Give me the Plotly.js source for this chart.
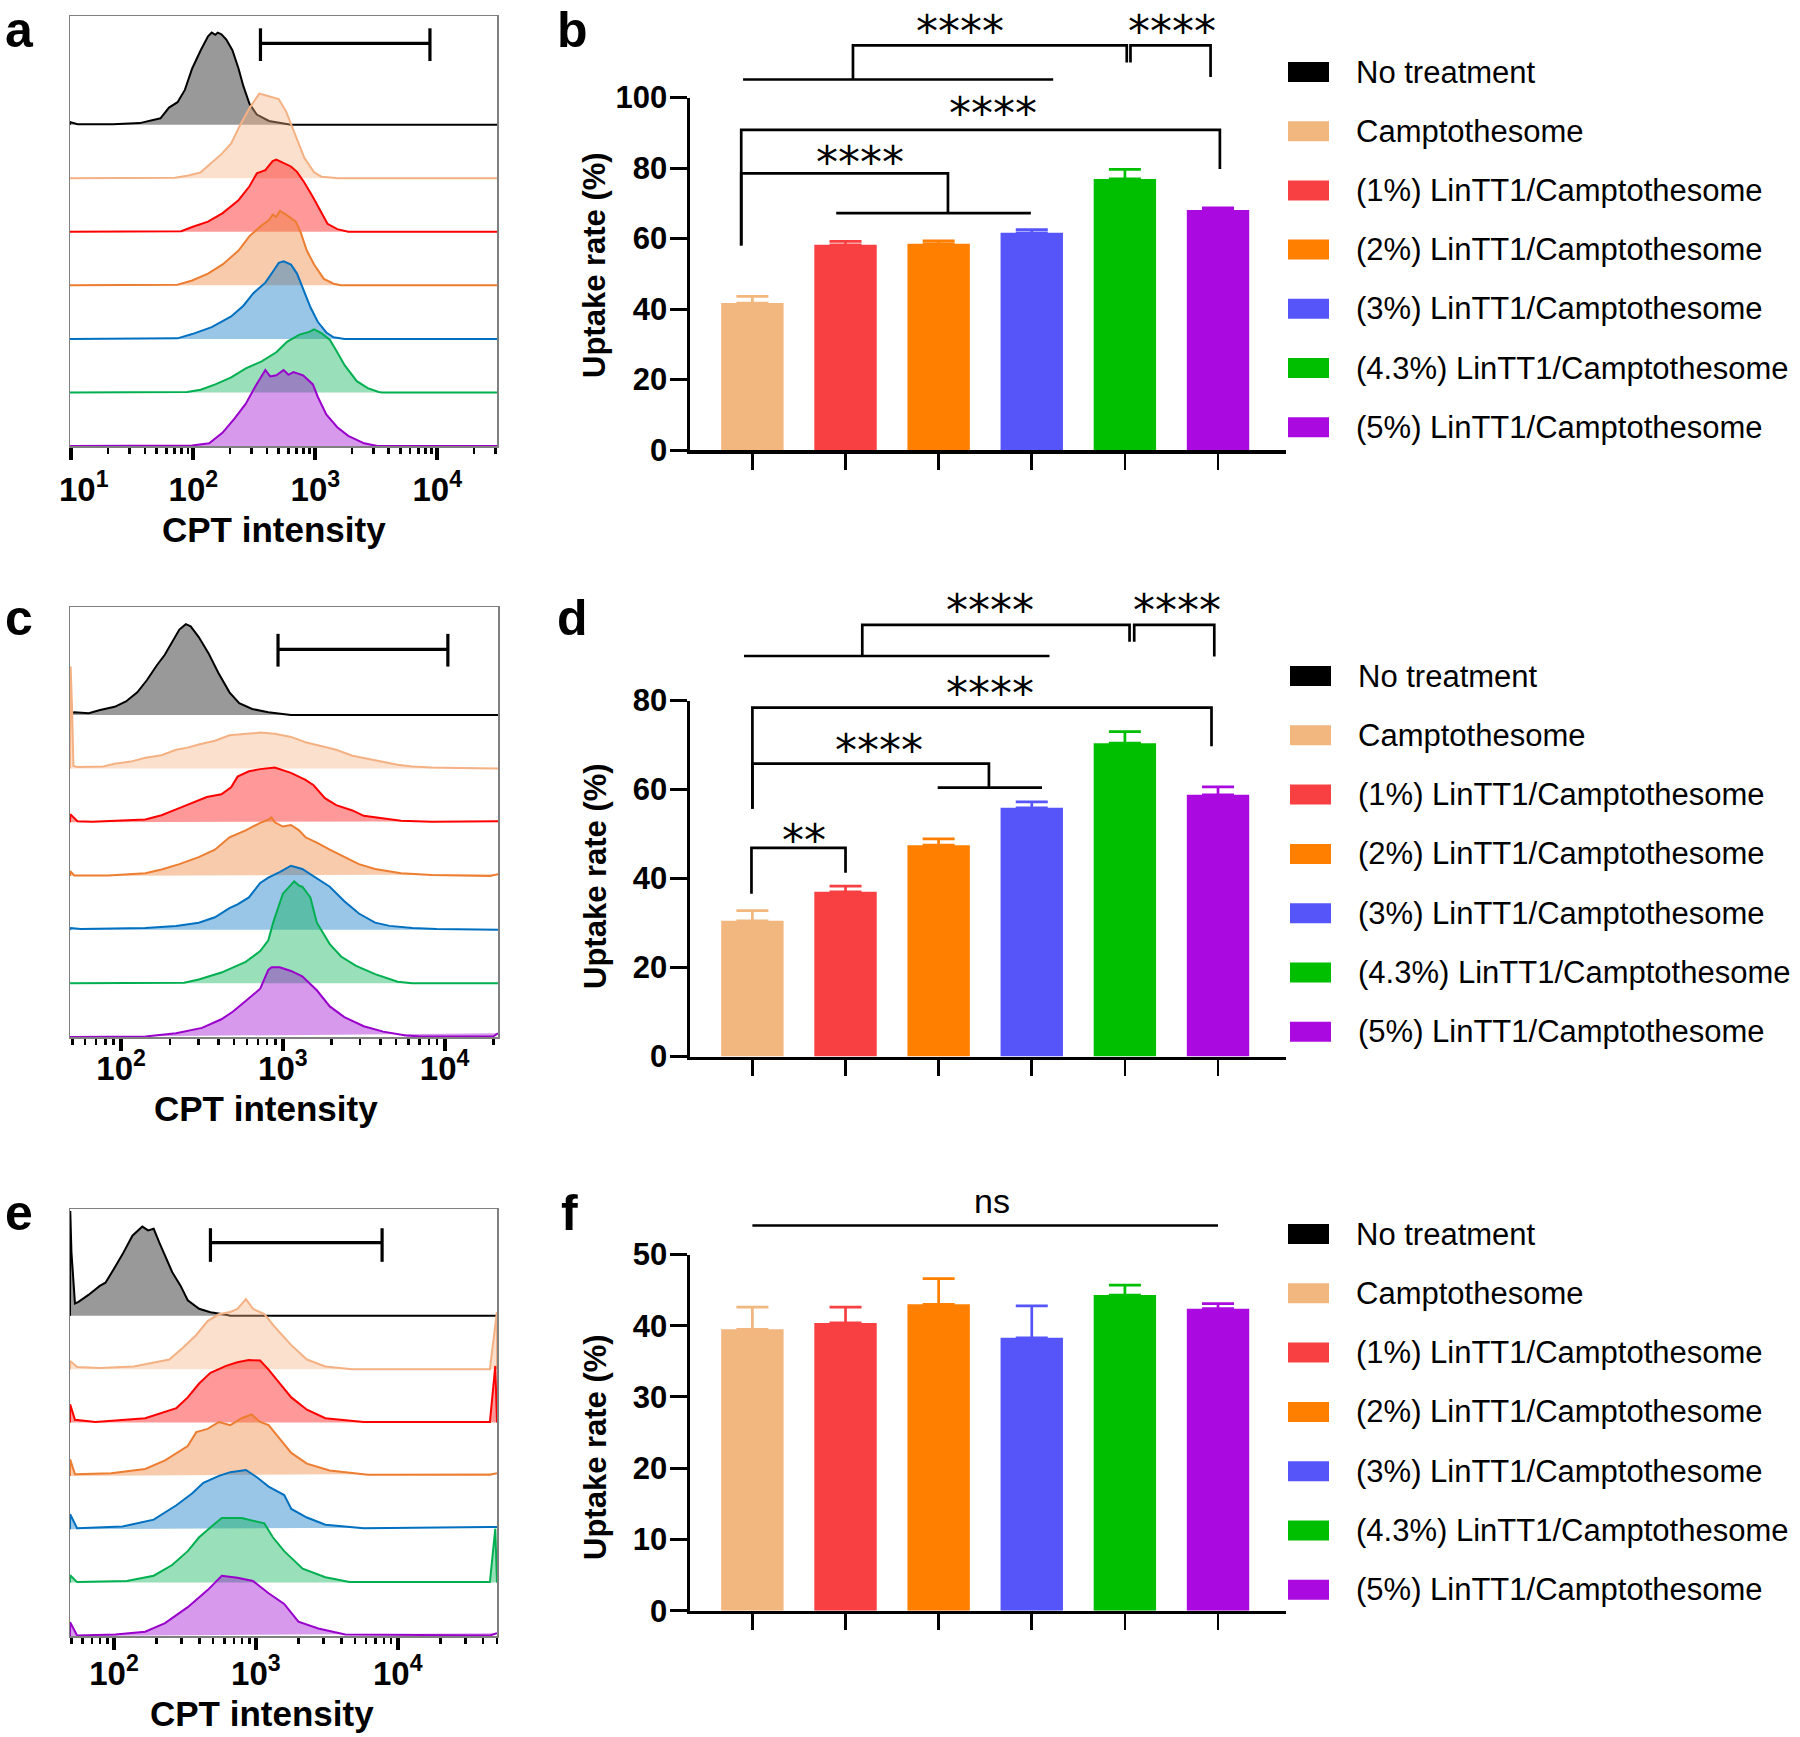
<!DOCTYPE html>
<html><head><meta charset="utf-8">
<script src="https://cdn.plot.ly/plotly-3.0.1.min.js"></script>
<style>html,body{margin:0;padding:0;background:#fff}#plot{width:1800px;height:1737px}</style>
</head><body><div id="plot"></div>
<script>
// ---------------- DATA ----------------
const groups = ['No treatment','Camptothesome','(1%) LinTT1/Camptothesome','(2%) LinTT1/Camptothesome','(3%) LinTT1/Camptothesome','(4.3%) LinTT1/Camptothesome','(5%) LinTT1/Camptothesome'];
const barGroups = groups.slice(1);

const uptakeB = [41.7, 58.2, 58.5, 61.6, 76.9, 68.1];
const errB    = [1.9, 1.0, 0.8, 0.9, 2.7, 0.6];
const uptakeD = [30.5, 37.0, 47.5, 55.9, 70.4, 58.8];
const errD    = [2.3, 1.3, 1.4, 1.3, 2.6, 1.8];
const uptakeF = [39.5, 40.4, 43.0, 38.3, 44.3, 42.4];
const errF    = [3.1, 2.2, 3.6, 4.5, 1.4, 0.7];

const histTicks = [10, 100, 1000, 10000];
const histTickText = ['10<sup>1</sup>','10<sup>2</sup>','10<sup>3</sup>','10<sup>4</sup>'];

// histogram curves: [log10(CPT intensity), relative count]
const histA_none = [[0.988,0],[0.99,0.05],[1.05,0.01],[1.34,0.01],[1.56,0.03],[1.73,0.12],[1.80,0.32],[1.87,0.42],[1.93,0.65],[1.99,1.05],[2.06,1.39],[2.12,1.65],[2.15,1.72],[2.18,1.68],[2.20,1.72],[2.23,1.69],[2.27,1.59],[2.32,1.39],[2.37,1.05],[2.41,0.72],[2.46,0.39],[2.52,0.19],[2.62,0.07],[2.74,0.02],[2.80,0],[4.49,0]];
const histA_camp = [[0.988,0],[1.85,0.01],[1.96,0.05],[2.06,0.11],[2.13,0.25],[2.23,0.45],[2.31,0.65],[2.38,0.98],[2.46,1.31],[2.54,1.58],[2.59,1.55],[2.65,1.51],[2.70,1.48],[2.76,1.25],[2.84,0.78],[2.91,0.38],[2.99,0.11],[3.05,0.03],[3.15,0.01],[3.18,0],[4.49,0]];
const histA_1 = [[0.988,0],[1.90,0.01],[1.99,0.09],[2.12,0.19],[2.24,0.35],[2.37,0.59],[2.46,0.85],[2.52,1.09],[2.59,1.15],[2.65,1.32],[2.68,1.35],[2.74,1.29],[2.80,1.22],[2.85,1.12],[2.91,0.92],[2.98,0.65],[3.04,0.39],[3.10,0.15],[3.18,0.05],[3.24,0.01],[3.27,0],[4.49,0]];
const histA_2 = [[0.988,0],[1.87,0.01],[1.99,0.09],[2.12,0.22],[2.24,0.39],[2.37,0.65],[2.46,0.92],[2.56,1.12],[2.62,1.22],[2.65,1.32],[2.68,1.28],[2.71,1.39],[2.76,1.32],[2.84,1.19],[2.88,0.99],[2.93,0.65],[2.99,0.39],[3.07,0.12],[3.15,0.03],[3.21,0],[4.49,0]];
const histA_3 = [[0.988,0],[1.87,0.01],[1.99,0.09],[2.15,0.22],[2.31,0.42],[2.41,0.62],[2.49,0.85],[2.59,1.05],[2.65,1.25],[2.70,1.42],[2.74,1.45],[2.80,1.39],[2.85,1.22],[2.90,0.92],[2.96,0.59],[3.02,0.32],[3.09,0.12],[3.15,0.03],[3.24,0],[4.49,0]];
const histA_43 = [[0.988,0],[1.95,0.01],[2.06,0.05],[2.18,0.15],[2.31,0.28],[2.43,0.45],[2.56,0.58],[2.68,0.75],[2.77,0.95],[2.87,1.08],[2.95,1.13],[2.99,1.18],[3.05,1.11],[3.12,0.98],[3.18,0.75],[3.24,0.51],[3.34,0.21],[3.43,0.08],[3.52,0.01],[3.55,0],[4.49,0]];
const histA_5 = [[0.988,0],[1.99,0.01],[2.13,0.05],[2.24,0.25],[2.34,0.52],[2.43,0.79],[2.51,1.12],[2.59,1.42],[2.63,1.30],[2.68,1.32],[2.74,1.42],[2.78,1.33],[2.82,1.38],[2.90,1.32],[2.98,1.15],[3.02,0.92],[3.09,0.59],[3.18,0.35],[3.27,0.19],[3.40,0.05],[3.51,0],[4.49,0]];

const histC_none = [[1.684,0],[1.69,0.03],[1.71,0.05],[1.80,0.03],[1.87,0.09],[1.96,0.15],[2.03,0.25],[2.10,0.42],[2.16,0.65],[2.22,0.92],[2.27,1.12],[2.32,1.39],[2.36,1.59],[2.40,1.69],[2.43,1.65],[2.48,1.45],[2.54,1.15],[2.60,0.79],[2.67,0.42],[2.73,0.22],[2.81,0.11],[2.91,0.05],[3.00,0.02],[3.05,0],[4.33,0]];
const histC_camp = [[1.684,0],[1.688,1.9],[1.697,1.1],[1.705,0.05],[1.73,0.03],[1.89,0.04],[1.96,0.09],[2.06,0.13],[2.15,0.2],[2.25,0.25],[2.34,0.35],[2.41,0.39],[2.48,0.45],[2.58,0.52],[2.67,0.62],[2.77,0.65],[2.86,0.67],[2.95,0.65],[3.05,0.59],[3.14,0.49],[3.24,0.42],[3.33,0.35],[3.43,0.24],[3.52,0.19],[3.62,0.12],[3.71,0.07],[3.80,0.04],[3.92,0.02],[4.09,0.01],[4.33,0]];
const histC_1 = [[1.684,0],[1.686,0.15],[1.73,0.02],[1.82,0.01],[2.15,0.05],[2.25,0.13],[2.34,0.24],[2.43,0.35],[2.53,0.47],[2.62,0.52],[2.68,0.65],[2.72,0.85],[2.79,0.95],[2.86,0.99],[2.95,1.02],[3.05,0.92],[3.14,0.79],[3.19,0.69],[3.26,0.45],[3.33,0.32],[3.43,0.22],[3.50,0.12],[3.62,0.07],[3.73,0.03],[3.92,0.01],[4.28,0.01],[4.33,0.02]];
const histC_2 = [[1.684,0],[1.686,0.09],[1.71,0.01],[1.92,0.01],[2.15,0.05],[2.25,0.12],[2.36,0.22],[2.48,0.35],[2.58,0.49],[2.67,0.72],[2.77,0.85],[2.86,0.99],[2.91,1.05],[2.93,1.09],[2.95,1.0],[3.00,0.92],[3.05,0.95],[3.10,0.85],[3.14,0.72],[3.21,0.62],[3.29,0.49],[3.38,0.35],[3.47,0.22],[3.57,0.13],[3.73,0.05],[3.92,0.02],[4.04,0.01],[4.28,0],[4.33,0.03]];
const histC_3 = [[1.684,0],[1.69,0.03],[1.75,0.01],[2.15,0.03],[2.34,0.07],[2.48,0.13],[2.58,0.23],[2.67,0.4],[2.72,0.47],[2.79,0.6],[2.86,0.87],[2.91,0.97],[2.98,1.07],[3.05,1.19],[3.12,1.13],[3.19,1.0],[3.29,0.8],[3.38,0.53],[3.47,0.3],[3.57,0.13],[3.66,0.07],[3.80,0.03],[3.95,0.01],[4.33,0]];
const histC_43 = [[1.684,0],[2.39,0.01],[2.48,0.07],[2.62,0.2],[2.77,0.4],[2.86,0.6],[2.91,0.8],[2.94,1.13],[3.00,1.67],[3.07,1.9],[3.10,1.82],[3.12,1.8],[3.17,1.6],[3.21,1.13],[3.29,0.73],[3.36,0.5],[3.45,0.33],[3.57,0.17],[3.71,0.03],[3.80,0],[4.33,0]];
const histC_5 = [[1.684,0],[2.15,0.01],[2.34,0.07],[2.50,0.17],[2.62,0.33],[2.69,0.47],[2.77,0.67],[2.86,0.9],[2.91,1.25],[2.93,1.3],[2.98,1.3],[3.05,1.23],[3.12,1.13],[3.21,0.87],[3.29,0.57],[3.38,0.37],[3.50,0.2],[3.62,0.1],[3.76,0.03],[3.85,0.01],[4.30,0.01],[4.33,0.07]];

const histE_none = [[1.69,0],[1.692,1.96],[1.70,1.2],[1.725,0.23],[1.75,0.26],[1.82,0.39],[1.90,0.56],[1.94,0.62],[2.00,0.88],[2.06,1.15],[2.13,1.5],[2.20,1.67],[2.24,1.6],[2.28,1.63],[2.32,1.37],[2.36,1.11],[2.41,0.82],[2.47,0.56],[2.52,0.29],[2.60,0.13],[2.68,0.065],[2.79,0.02],[2.82,0],[4.70,0]];
const histE_camp = [[1.69,0],[1.691,0.15],[1.74,0.04],[1.90,0.02],[2.14,0.05],[2.28,0.12],[2.39,0.18],[2.49,0.41],[2.58,0.64],[2.66,0.9],[2.74,1.03],[2.82,1.07],[2.87,1.13],[2.93,1.31],[2.98,1.13],[3.06,1.03],[3.14,0.77],[3.25,0.45],[3.36,0.18],[3.49,0.05],[3.68,0],[4.65,0],[4.68,0.64],[4.699,1.07],[4.70,0]];
const histE_1 = [[1.69,0],[1.691,0.34],[1.725,0.05],[1.87,0.01],[2.22,0.08],[2.44,0.27],[2.52,0.47],[2.60,0.73],[2.68,0.93],[2.79,1.06],[2.87,1.13],[2.95,1.17],[3.03,1.16],[3.09,0.99],[3.17,0.73],[3.25,0.47],[3.36,0.24],[3.49,0.08],[3.76,0.01],[4.65,0.01],[4.688,1.06],[4.70,0]];
const histE_2 = [[1.69,0],[1.691,0.31],[1.725,0.03],[1.98,0.05],[2.22,0.13],[2.36,0.29],[2.52,0.56],[2.58,0.82],[2.66,0.88],[2.74,1.01],[2.82,0.95],[2.90,1.08],[2.97,1.15],[3.03,1.01],[3.09,0.95],[3.17,0.69],[3.25,0.43],[3.36,0.23],[3.52,0.1],[3.79,0.02],[4.65,0.02],[4.70,0.05]];
const histE_3 = [[1.69,0],[1.691,0.28],[1.74,0.02],[2.06,0.05],[2.28,0.18],[2.44,0.45],[2.55,0.67],[2.63,0.87],[2.74,1.0],[2.82,1.07],[2.93,1.11],[3.01,0.97],[3.09,0.8],[3.20,0.64],[3.25,0.38],[3.36,0.22],[3.49,0.085],[3.76,0.02],[4.65,0.04],[4.70,0.04]];
const histE_43 = [[1.69,0],[1.691,0.14],[1.74,0.01],[2.09,0.03],[2.28,0.13],[2.41,0.33],[2.52,0.59],[2.60,0.85],[2.70,1.08],[2.76,1.21],[2.90,1.21],[3.06,1.11],[3.12,0.85],[3.20,0.59],[3.33,0.26],[3.49,0.1],[3.66,0.01],[4.65,0.01],[4.688,1.01],[4.70,0]];
const histE_5 = [[1.69,0],[1.691,0.26],[1.74,0.01],[2.01,0.03],[2.22,0.08],[2.36,0.24],[2.52,0.54],[2.66,0.86],[2.76,1.13],[2.87,1.09],[2.98,1.03],[3.09,0.8],[3.20,0.6],[3.30,0.27],[3.44,0.14],[3.63,0.03],[4.65,0.01],[4.70,0.05]];

// positive gates (log10 intensity bounds)
const gateA = [2.55, 3.94];
const gateC = [2.97, 4.02];
const gateE = [2.68, 3.89];

// significance brackets: polylines in (group index, uptake %)
const sigLinesB = [
  [[-0.12,58],[-0.12,78.5],[2.1,78.5],[2.1,67.2]], [[0.9,67.2],[2.99,67.2]],
  [[-0.12,58],[-0.12,90.8],[5.02,90.8],[5.02,79.7]],
  [[-0.1,105.1],[3.23,105.1]], [[1.08,105.1],[1.08,114.8],[4.02,114.8],[4.02,109.9]],
  [[4.06,109.9],[4.06,114.8],[4.92,114.8],[4.92,105.8]]
];
const sigTextB = [[1.16,83.5,'****'],[2.58,97.4,'****'],[2.23,120.6,'****'],[4.51,120.6,'****']];
const sigLinesD = [
  [[-0.01,36.6],[-0.01,46.9],[1.0,46.9],[1.0,41.3]],
  [[0,55.7],[0,65.8],[2.54,65.8],[2.54,60.4]], [[1.99,60.4],[3.11,60.4]],
  [[0,55.7],[0,78.4],[4.93,78.4],[4.93,69.7]],
  [[-0.09,90.0],[3.19,90.0]], [[1.18,90],[1.18,97],[4.05,97],[4.05,93.2]],
  [[4.10,93.2],[4.10,97],[4.96,97],[4.96,89.9]]
];
const sigTextD = [[0.55,50.2,'**'],[1.36,70.4,'****'],[2.55,83.1,'****'],[2.55,101.8,'****'],[4.56,101.8,'****']];
const sigLinesF = [[[0,54.07],[5.0,54.07]]];
const sigTextF = [[2.57,57.1,'ns']];

// ---------------- STYLE / LAYOUT ----------------
const W = 1800, H = 1737;
const FONT = 'Liberation Sans, Arial, Helvetica, sans-serif';
const px = x => x / W;
const py = y => 1 - y / H;

const histLineColors = ['#000000','#F4B183','#FF0000','#ED7D31','#0070C0','#00B050','#9900CC'];
const histFillColors = ['rgba(0,0,0,0.4)','rgba(244,177,131,0.4)','rgba(255,0,0,0.4)','rgba(237,125,49,0.4)','rgba(0,112,192,0.4)','rgba(0,176,80,0.4)','rgba(153,0,204,0.4)'];
const barColors = ['#F2B67F','#F84042','#FF7F00','#5555F9','#00BE00','#AA0ADF'];
const legendColors = ['#000000'].concat(barColors);

const traces = [];
const annotations = [];
const shapes = [];
const layout = {
  width: W, height: H, margin: {l:0, r:0, t:0, b:0},
  paper_bgcolor: '#ffffff', plot_bgcolor: 'rgba(0,0,0,0)',
  showlegend: false, barmode: 'overlay', font: {family: FONT, color: '#000'}
};

function minorVals(lo, hi) {
  const out = [];
  for (let d = Math.floor(lo); d <= Math.ceil(hi); d++) {
    for (let m = 2; m <= 9; m++) {
      const v = m * Math.pow(10, d);
      const l = Math.log10(v);
      if (l >= lo && l <= hi) out.push(v);
    }
  }
  return out;
}

function histPanel(n, curves, gate, frame, xrange, ytop, gateY, tickText, standoff) {
  const nC = curves.length;
  curves.forEach((c, k) => {
    const base = nC - 1 - k;
    traces.push({
      type: 'scatter', mode: 'lines', xaxis: 'x' + n, yaxis: 'y' + n,
      x: c.map(p => Math.pow(10, p[0])), y: c.map(p => base + p[1]),
      fill: 'toself', fillcolor: histFillColors[k],
      line: {color: histLineColors[k], width: 2}, hoverinfo: 'skip'
    });
  });
  const g0 = Math.pow(10, gate[0]), g1 = Math.pow(10, gate[1]);
  traces.push({
    type: 'scatter', mode: 'lines', xaxis: 'x' + n, yaxis: 'y' + n,
    x: [g0, g0, null, g0, g1, null, g1, g1],
    y: [gateY[0], gateY[2], null, gateY[1], gateY[1], null, gateY[0], gateY[2]],
    line: {color: '#000', width: 3.2}, hoverinfo: 'skip'
  });
  layout['xaxis' + n] = {
    domain: [px(frame[0]), px(frame[1])], anchor: 'y' + n, type: 'log', range: xrange,
    showline: true, mirror: true, linecolor: '#808080', linewidth: 1.5,
    ticks: 'outside', ticklen: 12, tickwidth: 4, tickcolor: '#000',
    tickvals: histTicks, ticktext: tickText, ticklabelstandoff: standoff,
    tickfont: {family: FONT, size: 33, color: '#000', weight: 'bold'},
    minor: {tickmode: 'array', tickvals: minorVals(xrange[0], xrange[1]), ticks: 'outside', ticklen: 6, tickwidth: 2.5, tickcolor: '#000', showgrid: false},
    showgrid: false, zeroline: false, fixedrange: true
  };
  layout['yaxis' + n] = {
    domain: [py(frame[3]), py(frame[2])], anchor: 'x' + n, range: [0, ytop],
    showline: true, mirror: true, linecolor: '#808080', linewidth: 1.5,
    ticks: '', showticklabels: false, showgrid: false, zeroline: false, fixedrange: true
  };
}

function barPanel(n, nAnn, vals, errs, geo, ticks, sigLines, sigText) {
  const xs = barGroups.map((_, i) => i);
  vals.forEach((v, i) => {
    traces.push({
      type: 'bar', xaxis: 'x' + n, yaxis: 'y' + n, x: [xs[i]], y: [v], width: 0.67,
      marker: {color: barColors[i], line: {width: 0}}, name: barGroups[i],
      error_y: {type: 'data', symmetric: false, array: [errs[i]], arrayminus: [0], color: barColors[i], thickness: 2.7, width: 16},
      hoverinfo: 'skip'
    });
  });
  const sx = [], sy = [];
  sigLines.forEach(line => { line.forEach(p => { sx.push(p[0]); sy.push(p[1]); }); sx.push(null); sy.push(null); });
  traces.push({type: 'scatter', mode: 'lines', xaxis: 'x' + n, yaxis: 'y' + nAnn, x: sx, y: sy,
    line: {color: '#000', width: 2.7}, hoverinfo: 'skip', connectgaps: false});
  const scale = (geo.y0 - geo.yTop) / geo.yMax; // px per unit
  layout['xaxis' + n] = {
    domain: [px(geo.x0), px(geo.x1)], anchor: 'y' + n, range: [-0.67, 5.73],
    showline: true, linecolor: '#000', linewidth: 3.5,
    ticks: 'outside', tickvals: xs, ticklen: 16, tickwidth: 2.6, tickcolor: '#000',
    showticklabels: false, showgrid: false, zeroline: false, fixedrange: true
  };
  layout['yaxis' + n] = {
    domain: [py(geo.y0), py(geo.yTop)], anchor: 'x' + n, range: [0, geo.yMax],
    showline: true, linecolor: '#000', linewidth: 3.5,
    ticks: 'outside', tickvals: ticks, ticklen: 17, tickwidth: 3, tickcolor: '#000',
    ticklabelstandoff: -4,
    tickfont: {family: FONT, size: 31, color: '#000', weight: 'bold'},
    showgrid: false, zeroline: false, fixedrange: true
  };
  layout['yaxis' + nAnn] = {
    domain: [py(geo.y0), py(geo.annTop)], anchor: 'x' + n, range: [0, (geo.y0 - geo.annTop) / scale],
    visible: false, fixedrange: true
  };
  sigText.forEach(t => {
    const isNs = t[2] === 'ns';
    annotations.push({
      xref: 'x' + n, yref: 'y' + nAnn, x: t[0], y: t[1], text: t[2], showarrow: false,
      xanchor: 'center', yanchor: 'middle', yshift: isNs ? 3 : -7,
      font: isNs ? {family: FONT, size: 34, color: '#000'} : {family: 'DejaVu Sans, sans-serif', size: 44, color: '#000'}
    });
  });
}

function legendBlock(sx, tx, y0, step) {
  groups.forEach((g, i) => {
    const yc = y0 + i * step;
    shapes.push({type: 'rect', xref: 'paper', yref: 'paper', x0: px(sx), x1: px(sx + 41), y0: py(yc + 10), y1: py(yc - 10),
      fillcolor: legendColors[i], line: {width: 0}});
    annotations.push({xref: 'paper', yref: 'paper', x: px(tx), y: py(yc), xanchor: 'left', yanchor: 'middle',
      text: g, showarrow: false, font: {family: FONT, size: 31, color: '#000'}});
  });
}

function label(text, x, y, size, opts) {
  annotations.push(Object.assign({xref: 'paper', yref: 'paper', x: px(x), y: py(y), text: text, showarrow: false,
    xanchor: 'center', yanchor: 'middle', font: {family: FONT, size: size, color: '#000', weight: 'bold'}}, opts || {}));
}

// ---------------- BUILD ----------------
// first label of panel a sits slightly right of its tick (invisible spacer)
const tickTextA = histTickText.map((t, i) => i === 0 ? '<span style="font-size:22px;color:rgba(0,0,0,0)">00</span>' + t : t);
histPanel(1, [histA_none, histA_camp, histA_1, histA_2, histA_3, histA_43, histA_5], gateA, [70, 497, 16, 446], [0.988, 4.49], 8.03, [7.19, 7.52, 7.80], tickTextA, 2);
histPanel(3, [histC_none, histC_camp, histC_1, histC_2, histC_3, histC_43, histC_5], gateC, [70, 498, 607, 1037], [1.684, 4.33], 8.01, [6.90, 7.22, 7.51], histTickText, -10);
histPanel(5, [histE_none, histE_camp, histE_1, histE_2, histE_3, histE_43, histE_5], gateE, [70, 497, 1209, 1636], [1.69, 4.70], 8.0, [7.01, 7.37, 7.64], histTickText, -4);

barPanel(2, 7, uptakeB, errB, {x0: 690, x1: 1286, y0: 450, yTop: 97.5, yMax: 100, annTop: 5}, [0, 20, 40, 60, 80, 100], sigLinesB, sigTextB);
barPanel(4, 8, uptakeD, errD, {x0: 690, x1: 1286, y0: 1056.5, yTop: 700.5, yMax: 80, annTop: 580}, [0, 20, 40, 60, 80], sigLinesD, sigTextD);
barPanel(6, 9, uptakeF, errF, {x0: 690, x1: 1286, y0: 1610.7, yTop: 1254.5, yMax: 50, annTop: 1180}, [0, 10, 20, 30, 40, 50], sigLinesF, sigTextF);

legendBlock(1288, 1354, 72, 59.2);
legendBlock(1290, 1356, 676, 59.3);
legendBlock(1288, 1354, 1234, 59.3);

// axis titles
label('CPT intensity', 274, 530, 35);
label('CPT intensity', 266, 1108, 35);
label('CPT intensity', 262, 1713, 35);
label('Uptake rate (%)', 595, 265, 31, {textangle: -90});
label('Uptake rate (%)', 595, 876, 31, {textangle: -90});
label('Uptake rate (%)', 595, 1447, 31, {textangle: -90});

// panel letters
[['a', 3, 30], ['b', 555, 30], ['c', 3, 618], ['d', 555, 618], ['e', 3, 1213], ['f', 559, 1213]].forEach(l => {
  label(l[0], l[1], l[2], 50, {xanchor: 'left'});
});

layout.annotations = annotations;
layout.shapes = shapes;

Plotly.newPlot('plot', traces, layout, {staticPlot: true, displayModeBar: false});
</script>
</body></html>
